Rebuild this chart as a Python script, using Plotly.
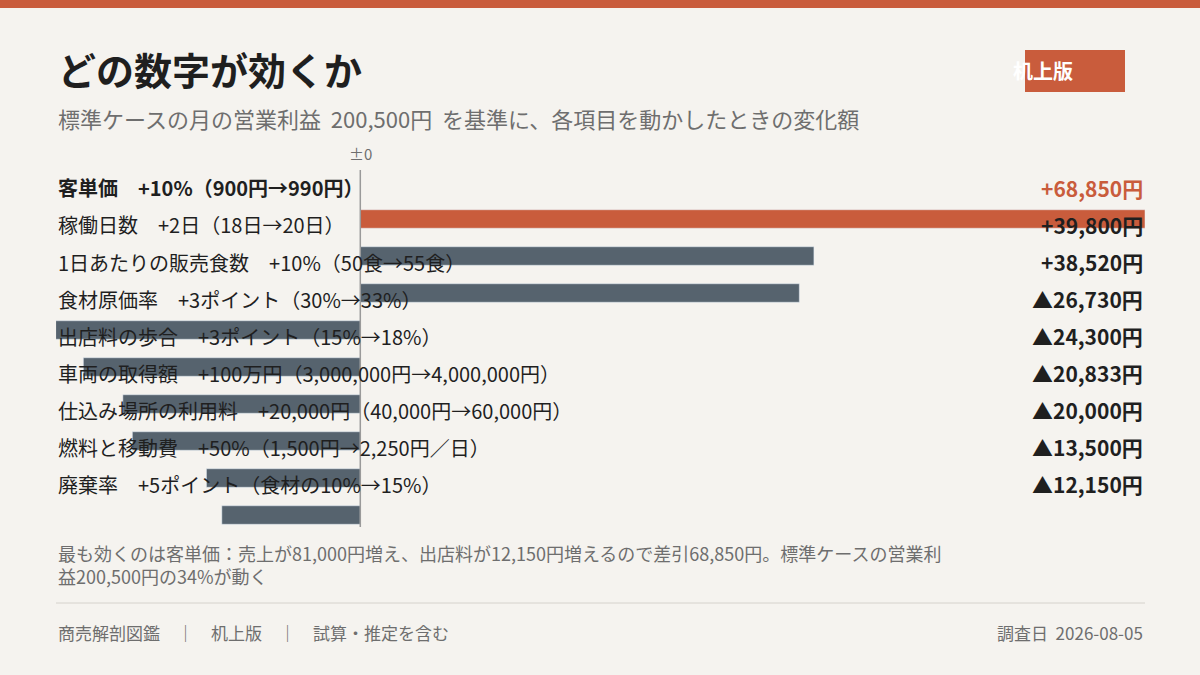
import plotly.graph_objects as go

labels = ["客単価　+10%（900円→990円）", "稼働日数　+2日（18日→20日）", "1日あたりの販売食数　+10%（50食→55食）",
          "食材原価率　+3ポイント（30%→33%）", "出店料の歩合　+3ポイント（15%→18%）",
          "車両の取得額　+100万円（3,000,000円→4,000,000円）", "仕込み場所の利用料　+20,000円（40,000円→60,000円）",
          "燃料と移動費　+50%（1,500円→2,250円／日）", "廃棄率　+5ポイント（食材の10%→15%）"]
values = [68850, 39800, 38520, -26730, -24300, -20833, -20000, -13500, -12150]
value_text = ["+68,850円", "+39,800円", "+38,520円", "▲26,730円", "▲24,300円", "▲20,833円", "▲20,000円", "▲13,500円", "▲12,150円"]

ORANGE = "#C95C3C"; SLATE = "#56636E"; BG = "#F5F3EF"; INK = "#1F1F1F"; GRAY = "#6E6E6E"
FONT = "Noto Sans CJK JP"

L, R, T, B = 56, 1145, 170, 535
W, H = R - L, B - T
def px(x): return (x - L) / W
def py(y): return (B - y) / H

ys = [-i for i in range(len(values))]
colors = [ORANGE] + [SLATE] * (len(values) - 1)
fig = go.Figure(go.Bar(x=values, y=ys, orientation="h", marker_color=colors, width=0.5, hoverinfo="skip"))

ann = []
for i, (lab, vt) in enumerate(zip(labels, value_text)):
    yl = -i + 31 / 37
    ann.append(dict(x=0, xref="paper", y=yl, yref="y", yanchor="middle", text=("<b>%s</b>" % lab) if i == 0 else lab,
                    xanchor="left", showarrow=False, font=dict(size=20, color=INK, family=FONT)))
    ann.append(dict(x=1, xref="paper", y=yl, yref="y", yanchor="middle", text="<b>%s</b>" % vt, xanchor="right", showarrow=False,
                    font=dict(size=21, color=ORANGE if i == 0 else INK, family=FONT)))
ann += [
    dict(x=0, xref="x", y=py(153), yref="paper", text="±0", showarrow=False, font=dict(size=15, color=GRAY, family=FONT)),
    dict(x=px(56), xref="paper", y=py(68), yref="paper", text="<b>どの数字が効くか</b>", xanchor="left", showarrow=False,
         font=dict(size=38, color=INK, family=FONT)),
    dict(x=px(56), xref="paper", y=py(118), yref="paper", xanchor="left", showarrow=False,
         text="標準ケースの月の営業利益  200,500円  を基準に、各項目を動かしたときの変化額", font=dict(size=22, color=GRAY, family=FONT)),
    dict(x=px(1075), xref="paper", y=py(71), yref="paper", text="<b>机上版</b>", showarrow=False,
         font=dict(size=20, color="white", family=FONT)),
    dict(x=px(56), xref="paper", y=py(564), yref="paper", xanchor="left", align="left", showarrow=False,
         text="最も効くのは客単価：売上が81,000円増え、出店料が12,150円増えるので差引68,850円。標準ケースの営業利<br>益200,500円の34%が動く",
         font=dict(size=18, color=GRAY, family=FONT)),
    dict(x=px(56), xref="paper", y=py(632), yref="paper", xanchor="left", showarrow=False,
         text="商売解剖図鑑　｜　机上版　｜　試算・推定を含む", font=dict(size=17, color=GRAY, family=FONT)),
    dict(x=px(1145), xref="paper", y=py(632), yref="paper", xanchor="right", showarrow=False,
         text="調査日  2026-08-05", font=dict(size=17, color=GRAY, family=FONT)),
]
for a in ann:
    a.setdefault("yanchor", "middle")
shapes = [
    dict(type="rect", xref="paper", yref="paper", x0=px(0), x1=px(1200), y0=py(0), y1=py(8), fillcolor=ORANGE, line_width=0),
    dict(type="rect", xref="paper", yref="paper", x0=px(1025), x1=px(1125), y0=py(50), y1=py(92), fillcolor=ORANGE, line_width=0),
    dict(type="line", xref="x", yref="paper", x0=0, x1=0, y0=py(170), y1=py(527), line=dict(color="#9A9A9A", width=1.5)),
    dict(type="line", xref="paper", yref="paper", x0=0, x1=1, y0=py(603), y1=py(603), line=dict(color="#D5D2CC", width=1)),
]
fig.update_layout(width=1200, height=675, margin=dict(l=L, r=1200 - R, t=T, b=675 - B),
                  paper_bgcolor=BG, plot_bgcolor=BG, showlegend=False, annotations=ann, shapes=shapes,
                  xaxis=dict(range=[-26700, 68850], visible=False, fixedrange=True),
                  yaxis=dict(range=[-8.54, 1.324], visible=False, fixedrange=True))
fig.write_html("out.html", config={"displayModeBar": False},
               post_script="document.body.style.margin='0';document.body.style.overflow='hidden';document.body.style.background='%s';" % BG)
